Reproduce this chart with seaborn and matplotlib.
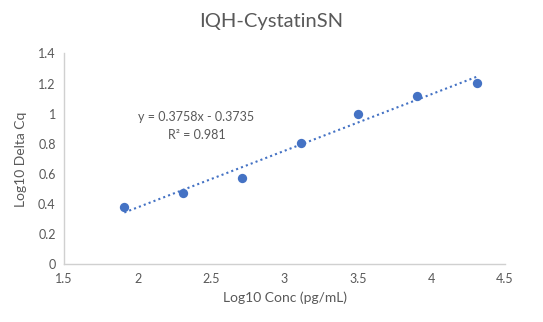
import matplotlib
matplotlib.use("Agg")
import matplotlib.pyplot as plt
import seaborn as sns
import numpy as np
import pandas as pd

log_conc = [1.91, 2.31, 2.71, 3.11, 3.50, 3.90, 4.31]
log_delta_cq = [0.378, 0.475, 0.573, 0.807, 0.995, 1.115, 1.205]
fit_slope = 0.3758
fit_intercept = -0.3735
r_squared = 0.981
x_ticks = [1.5, 2, 2.5, 3, 3.5, 4, 4.5]
y_ticks = [0, 0.2, 0.4, 0.6, 0.8, 1, 1.2, 1.4]

sns.set_theme(style="white")
plt.rcParams['font.family'] = ['Lato', 'DejaVu Sans']

df = pd.DataFrame({"x": log_conc, "y": log_delta_cq})

fig = plt.figure(figsize=(5.43, 3.22), dpi=100)
ax = fig.add_axes([0.118, 0.179, 0.812, 0.655])

blue = "#4472C4"
xs = np.array([min(log_conc), max(log_conc)])
ax.plot(xs, fit_slope * xs + fit_intercept, linestyle=(0, (1, 1.5)), color=blue, lw=1.5, zorder=2)
sns.scatterplot(data=df, x="x", y="y", ax=ax, color=blue, s=45, edgecolor=blue, linewidth=0, zorder=3)

ax.set_xlim(1.5, 4.5)
ax.set_ylim(0, 1.4)
ax.set_xticks(x_ticks)
ax.set_xticklabels([f"{t:g}" for t in x_ticks])
ax.set_yticks(y_ticks)
ax.set_yticklabels([f"{t:g}" for t in y_ticks])
ax.tick_params(axis='both', colors="#595959", labelsize=9, length=0, pad=6)

for s in ["top", "right"]:
    ax.spines[s].set_visible(False)
for s in ["left", "bottom"]:
    ax.spines[s].set_color("#D0D0D0")
    ax.spines[s].set_linewidth(1)

ax.set_xlabel("Log10 Conc (pg/mL)", fontsize=10, color="#595959", labelpad=5)
ax.set_ylabel("Log10 Delta Cq", fontsize=10, color="#595959", labelpad=8)
fig.suptitle("IQH-CystatinSN", fontsize=14.5, color="#595959", y=0.96)

sign = "-" if fit_intercept < 0 else "+"
ax.text(2.40, 0.977, f"y = {fit_slope:.4f}x {sign} {abs(fit_intercept):.4f}", ha="center", va="center",
        fontsize=9, color="#595959")
ax.text(2.40, 0.857, f"R² = {r_squared:.3f}", ha="center", va="center", fontsize=9, color="#595959")

fig.savefig("out.png", dpi=100)
